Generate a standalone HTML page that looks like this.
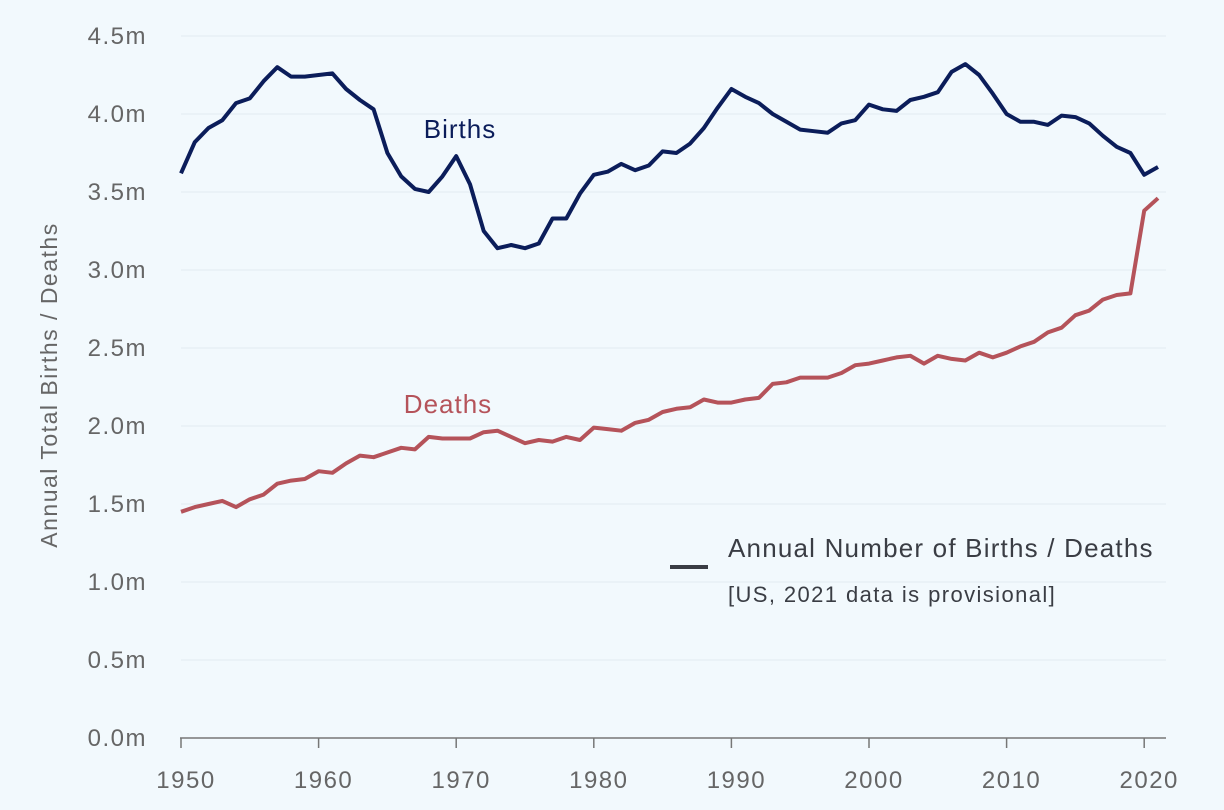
<!DOCTYPE html>
<html><head><meta charset="utf-8"><style>
html,body{margin:0;padding:0;background:#f2f9fd;}
svg{display:block;font-family:"Liberation Sans",sans-serif;}
</style></head><body>
<svg id="chart" width="1224" height="810">
<rect width="1224" height="810" fill="#f2f9fd"/>
<g id="grid"></g><g id="axes"></g><g id="series"></g>
<text x="57" y="385" transform="rotate(-90 57 385)" text-anchor="middle" font-size="23" letter-spacing="1.5" fill="#666">Annual Total Births / Deaths</text>
<text x="460" y="138" text-anchor="middle" font-size="26" letter-spacing="1" fill="#0b1d5a">Births</text>
<text x="448" y="413" text-anchor="middle" font-size="26" letter-spacing="1" fill="#b5535a">Deaths</text>
<line x1="670" y1="567" x2="708" y2="567" stroke="#3a3d44" stroke-width="4"/>
<text x="728" y="557" font-size="26" letter-spacing="1.2" fill="#3a3d44">Annual Number of Births / Deaths</text>
<text x="728" y="602" font-size="22" letter-spacing="1.4" fill="#3a3d44">[US, 2021 data is provisional]</text>
</svg>
<script>
const years=[];for(let y=1950;y<=2021;y++)years.push(y);
const births=[3.62,3.82,3.91,3.96,4.07,4.10,4.21,4.30,4.24,4.24,4.25,4.26,4.16,4.09,4.03,3.75,3.60,3.52,3.50,3.60,3.73,3.55,3.25,3.14,3.16,3.14,3.17,3.33,3.33,3.49,3.61,3.63,3.68,3.64,3.67,3.76,3.75,3.81,3.91,4.04,4.16,4.11,4.07,4.00,3.95,3.90,3.89,3.88,3.94,3.96,4.06,4.03,4.02,4.09,4.11,4.14,4.27,4.32,4.25,4.13,4.00,3.95,3.95,3.93,3.99,3.98,3.94,3.86,3.79,3.75,3.61,3.66];
const deaths=[1.45,1.48,1.50,1.52,1.48,1.53,1.56,1.63,1.65,1.66,1.71,1.70,1.76,1.81,1.80,1.83,1.86,1.85,1.93,1.92,1.92,1.92,1.96,1.97,1.93,1.89,1.91,1.90,1.93,1.91,1.99,1.98,1.97,2.02,2.04,2.09,2.11,2.12,2.17,2.15,2.15,2.17,2.18,2.27,2.28,2.31,2.31,2.31,2.34,2.39,2.40,2.42,2.44,2.45,2.40,2.45,2.43,2.42,2.47,2.44,2.47,2.51,2.54,2.60,2.63,2.71,2.74,2.81,2.84,2.85,3.38,3.46];
const yTicks=[0,0.5,1,1.5,2,2.5,3,3.5,4,4.5];
const yTickLabels=["0.0m","0.5m","1.0m","1.5m","2.0m","2.5m","3.0m","3.5m","4.0m","4.5m"];
const xTicks=[1950,1960,1970,1980,1990,2000,2010,2020];
const NS='http://www.w3.org/2000/svg';
const xs=y=>181+(y-1950)*13.76;
const ys=v=>738-v*156;
function mk(t,a,p){const e=document.createElementNS(NS,t);for(const k in a)e.setAttribute(k,a[k]);p.appendChild(e);return e;}
const grid=document.getElementById('grid'),axes=document.getElementById('axes'),ser=document.getElementById('series');
yTicks.forEach((v,i)=>{
 if(v>0){const l=mk('line',{x1:181,x2:1166,y1:ys(v),y2:ys(v),stroke:'#e3ecf1','stroke-width':1},grid);
 
 }
 const t=mk('text',{x:147,y:ys(v)+8,'text-anchor':'end','font-size':24,'letter-spacing':1.5,fill:'#666'},axes);t.textContent=yTickLabels[i];
 
 
});
const ax=mk('line',{x1:180,x2:1166,y1:738,y2:738,stroke:'#777','stroke-width':1.5},axes);


xTicks.forEach(y=>{
 const tk=mk('line',{x1:xs(y),x2:xs(y),y1:738,y2:748,stroke:'#777','stroke-width':1.5},axes);
 
 
 const t=mk('text',{x:xs(y)+5,y:788,'text-anchor':'middle','font-size':24,'letter-spacing':1.5,fill:'#666'},axes);t.textContent=y;
 
 
});
function line(arr,col,name){
 const d=arr.map((v,i)=>(i?'L':'M')+xs(years[i]).toFixed(1)+' '+ys(v).toFixed(1)).join(' ');
 const p=mk('path',{d:d,fill:'none',stroke:col,'stroke-width':4,'stroke-linejoin':'round'},ser);
 
 
}
line(births,'#0b1d5a','births-line');
line(deaths,'#b5535a','deaths-line');
</script>
</body></html>
